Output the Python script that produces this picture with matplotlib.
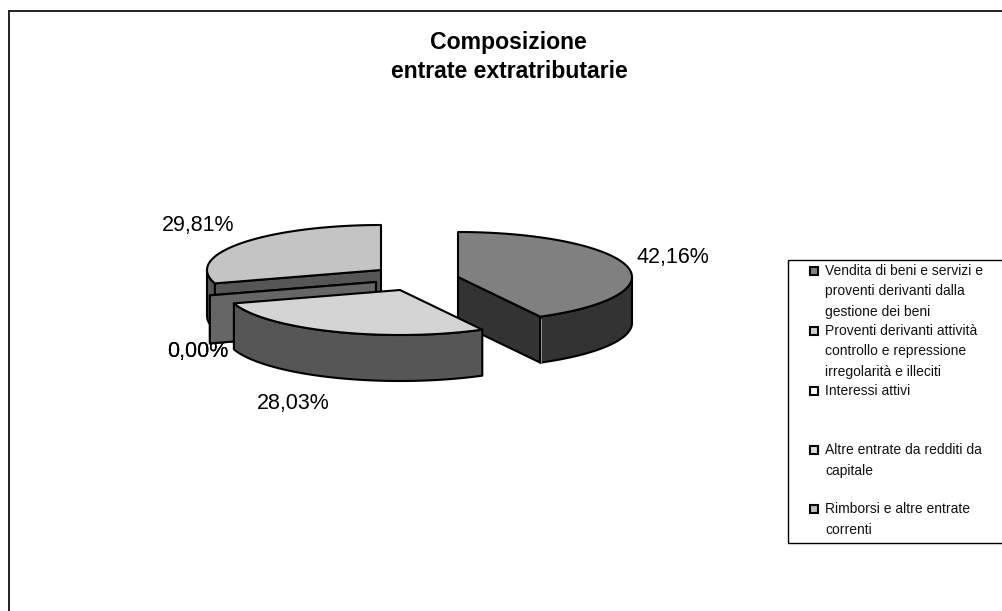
import numpy as np
import matplotlib
matplotlib.use("Agg")
import matplotlib.pyplot as plt
from matplotlib.patches import Polygon, Rectangle

plt.rcParams['font.family'] = ['Liberation Sans', 'DejaVu Sans']

title_lines = ["Composizione", "entrate extratributarie"]
categories = [
    "Vendita di beni e servizi e\nproventi derivanti dalla\ngestione dei beni",
    "Proventi derivanti attività\ncontrollo e repressione\nirregolarità e illeciti",
    "Interessi attivi",
    "Altre entrate da redditi da\ncapitale",
    "Rimborsi e altre entrate\ncorrenti",
]
values = [42.16, 28.03, 0.00, 0.00, 29.81]
value_labels = ["42,16%", "28,03%", "0,00%", "0,00%", "29,81%"]

top_colors = ["#808080", "#d4d4d4", "#666666", "#666666", "#c4c4c4"]
side_colors = ["#333333", "#565656", "#666666", "#666666", "#565656"]
legend_colors = ["#808080", "#d0d0d0", "#ffffff", "#e0e0e0", "#c0c0c0"]
apexes = [(458, 277), (400, 290), (376, 282), (376, 282), (381, 270)]
label_pos = [(673, 257), (293, 403), (198, 351), (198, 351), (198, 225)]
legend_y = [271, 331, 391, 450, 509]

RX, RY, DEPTH = 174, 45, 46
LW = 1.5

fig = plt.figure(figsize=(10.03, 6.11), dpi=100, facecolor="white")
ax = fig.add_axes([0, 0, 1, 1])
ax.set_xlim(0, 1003)
ax.set_ylim(611, 0)
ax.axis("off")

# outer frame: only its left and top edges fall inside the picture
ax.plot([9, 9, 1003], [611, 10.5, 10.5], color="#222222", lw=1.4, solid_joinstyle="miter")


def rim(apex, a0, a1, n=80):
    t = np.radians(np.linspace(a0, a1, n))
    return apex[0] + RX * np.sin(t), apex[1] - RY * np.cos(t)


# cumulative clockwise angles from 12 o'clock
ends = np.cumsum(values) / sum(values) * 360
starts = np.r_[0, ends[:-1]]

# back to front
for i in [4, 3, 2, 0, 1]:
    a0, a1 = starts[i], ends[i]
    ap = apexes[i]
    kw = dict(edgecolor="black", lw=LW, joinstyle="round")
    # radial wall seen from the front
    if values[i] == 0 or i == 4:
        x, y = rim(ap, a0, a0, 2)
        ax.add_patch(Polygon([ap, (x[0], y[0]), (x[0], y[0] + DEPTH + 2), (ap[0], ap[1] + DEPTH + 2)],
                             facecolor=side_colors[i], **kw))
    if i == 0:
        x, y = rim(ap, a1, a1, 2)
        ax.add_patch(Polygon([ap, (x[0], y[0]), (x[0], y[0] + DEPTH), (ap[0], ap[1] + DEPTH)],
                             facecolor=side_colors[i], **kw))
    if values[i] == 0:
        continue
    # outer rim
    lo, hi = max(a0, 90), min(a1, 270)
    if lo < hi:
        x, y = rim(ap, lo, hi)
        ax.add_patch(Polygon(np.r_[np.c_[x, y], np.c_[x[::-1], y[::-1] + DEPTH]],
                             facecolor=side_colors[i], **kw))
        if i == 0:
            # thin light seam between wall and rim
            sx, sy = rim(ap, a1, a1, 2)
            ax.plot([sx[0] + 0.3, sx[0] + 0.3], [sy[0] + 2, sy[0] + DEPTH - 1], color="#aaaaaa", lw=0.6)
    # top face
    x, y = rim(ap, a0, a1)
    ax.add_patch(Polygon(np.r_[[ap], np.c_[x, y]], facecolor=top_colors[i], **kw))

for txt, (lx, ly) in zip(value_labels, label_pos):
    ax.text(lx, ly, txt, fontsize=15.5, ha="center", va="center", color="black")

ax.text(508, 42, title_lines[0], fontsize=16.6, fontweight="bold", ha="center", va="center")
ax.text(509, 72, title_lines[1], fontsize=16.6, fontweight="bold", ha="center", va="center")

# legend box runs past the right edge of the picture
ax.add_patch(Rectangle((788, 260), 230, 283, facecolor="white", edgecolor="black", lw=1.0))
for cat, c, ly in zip(categories, legend_colors, legend_y):
    ax.add_patch(Rectangle((810, ly - 4), 8, 8, facecolor=c, edgecolor="black", lw=1.5))
    for k, line in enumerate(cat.split("\n")):
        ax.text(825, ly + k * 20.5, line, fontsize=10, ha="left", va="center", color="#111111")

fig.savefig("out.png", dpi=100)
